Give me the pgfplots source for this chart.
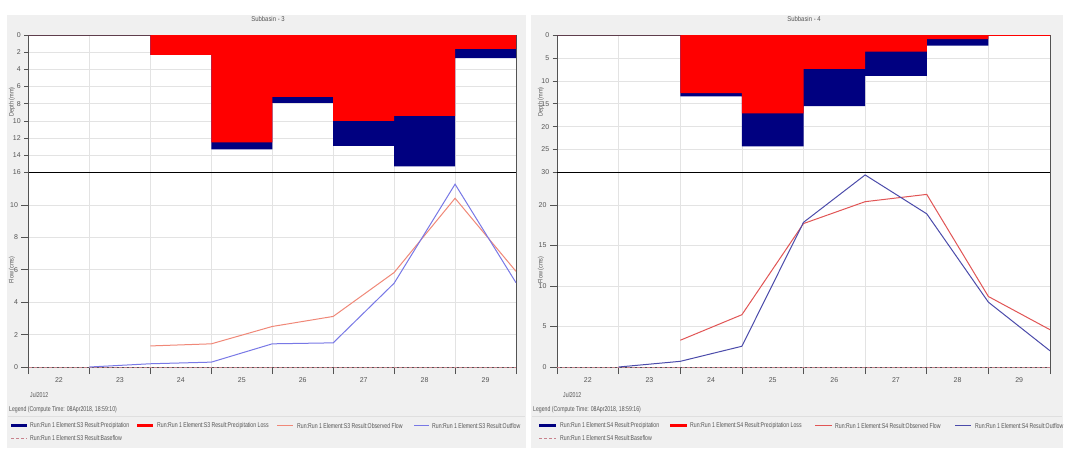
\documentclass[border=0pt]{standalone}
\usepackage{fontspec}
\setmainfont{Liberation Sans}
\usepackage{graphicx}
\usepackage{pgfplots}
\pgfplotsset{compat=1.18}
\definecolor{navy}{RGB}{0,0,128}
\definecolor{bgg}{RGB}{240,240,240}
\definecolor{obsL}{RGB}{240,136,120}
\definecolor{outL}{RGB}{120,120,230}
\definecolor{obsR}{RGB}{225,85,85}
\definecolor{outR}{RGB}{75,75,170}
\definecolor{basef}{RGB}{200,130,140}
\definecolor{txt}{RGB}{85,85,85}
\pgfplotsset{
  hms/.style={scale only axis, xmin=22, xmax=30, xtick={22,...,30},
    xtick pos=lower, ytick pos=left,
    grid=major, major grid style={gray!22, line width=0.6pt},
    axis line style={gray!65!black, line width=0.8pt},
    tick style={gray!65!black, line width=0.6pt}, tick align=outside,
    /pgf/number format/assume math mode=true,
    tick label style={font=\fontsize{7}{8}\selectfont, text=txt},
    axis background/.style={fill=white}},
  depth/.style={hms, y dir=reverse, ymin=0, xticklabels={}, major x tick style={draw=none},
    height=137.5pt},
  flow/.style={hms, ymin=0, x tick label as interval, major tick length=7pt,
    height=194.5pt},
}
\newcommand{\leg}[1]{\scalebox{0.74}[1]{\fontsize{7}{8}\selectfont\color{txt}#1}}
\newcommand{\ylab}[1]{\scalebox{0.85}[1]{\fontsize{6.5}{7}\selectfont\color{txt}#1}}
\begin{document}
\begin{tikzpicture}[x=1pt,y=1pt]
\useasboundingbox (0,0) rectangle (1065,448);
\fill[bgg] (7,0) rectangle (526,433);
\fill[bgg] (531,0) rectangle (1063,433);
\node[font=\fontsize{7}{8}\selectfont, text=txt] at (268,429) {\scalebox{0.85}[1]{Subbasin - 3}};
\node[font=\fontsize{7}{8}\selectfont, text=txt] at (804,429) {\scalebox{0.85}[1]{Subbasin - 4}};

% ---------- Subbasin 3 depth
\begin{axis}[depth, at={(28.5pt,275.5pt)}, anchor=south west, width=487.5pt,
  ymax=16, ytick={0,2,...,16}]
\addplot[ybar interval, fill=navy, draw=none] coordinates {
 (22,0) (23,0) (24,2.3) (25,13.3) (26,7.9) (27,12.9) (28,15.3) (29,2.7) (30,0)};
\addplot[ybar interval, fill=red, draw=none] coordinates {
 (22,0) (23,0) (24,2.3) (25,12.5) (26,7.2) (27,10.0) (28,9.4) (29,1.6) (30,0)};
\end{axis}
% ---------- Subbasin 3 flow
\begin{axis}[flow, at={(28.5pt,81pt)}, anchor=south west, width=487.5pt,
  ymax=12, ytick={0,2,...,10}]
\addplot[basef, densely dashed, line width=0.8pt] coordinates {(22,0) (30,0)};
\addplot[obsL, line width=1pt] coordinates {
 (24,1.3) (25,1.43) (26,2.5) (27,3.12) (28,5.83) (29,10.41) (30,5.9)};
\addplot[outL, line width=1pt] coordinates {
 (23,0) (24,0.2) (25,0.3) (26,1.43) (27,1.49) (28,5.17) (29,11.28) (30,5.2)};
\end{axis}
\draw[black, line width=1.6pt] (28.5,275.5) -- (516,275.5);

% ---------- Subbasin 4 depth
\begin{axis}[depth, at={(557pt,275.5pt)}, anchor=south west, width=493pt,
  ymax=30, ytick={0,5,...,30}]
\addplot[ybar interval, fill=navy, draw=none] coordinates {
 (22,0) (23,0) (24,13.4) (25,24.3) (26,15.5) (27,8.9) (28,2.3) (29,0) (30,0)};
\addplot[ybar interval, fill=red, draw=none] coordinates {
 (22,0) (23,0) (24,12.7) (25,17.1) (26,7.4) (27,3.6) (28,0.9) (29,0.2) (30,0)};
\end{axis}
% ---------- Subbasin 4 flow
\begin{axis}[flow, at={(557pt,81pt)}, anchor=south west, width=493pt,
  ymax=24, ytick={0,5,...,20}]
\addplot[basef, densely dashed, line width=0.8pt] coordinates {(22,0) (30,0)};
\addplot[obsR, line width=1pt] coordinates {
 (24,3.3) (25,6.45) (26,17.7) (27,20.4) (28,21.3) (29,8.7) (30,4.6)};
\addplot[outR, line width=1pt] coordinates {
 (23,0) (24,0.7) (25,2.56) (26,17.85) (27,23.7) (28,18.9) (29,8.0) (30,2.0)};
\end{axis}
\draw[black, line width=1.6pt] (557,275.5) -- (1050,275.5);

% ---------- axis titles
\node[rotate=90] at (12,346) {\ylab{Depth (mm)}};
\node[rotate=90] at (12,178) {\ylab{Flow (cms)}};
\node[rotate=90] at (541,346) {\ylab{Depth (mm)}};
\node[rotate=90] at (541,178) {\ylab{Flow (cms)}};

% ---------- legends
\node[anchor=west, inner sep=0] at (30,53) {\leg{Jul2012}};
\node[anchor=west, inner sep=0] at (563,53) {\leg{Jul2012}};
\draw[gray!25] (8,31.5) -- (525,31.5);
\draw[gray!25] (532,31.5) -- (1062,31.5);
\node[anchor=west, inner sep=0] at (9,38) {\leg{Legend (Compute Time: 08Apr2018, 18:59:10)}};
\node[anchor=west, inner sep=0] at (533,38) {\leg{Legend (Compute Time: 08Apr2018, 18:59:16)}};
% left
\draw[navy, line width=3pt] (11,22.5) -- (27,22.5);
\node[anchor=west, inner sep=0] at (30,22.5) {\leg{Run:Run 1 Element:S3 Result:Precipitation}};
\draw[red, line width=3pt] (137,22.5) -- (153,22.5);
\node[anchor=west, inner sep=0] at (157,22.5) {\leg{Run:Run 1 Element:S3 Result:Precipitation Loss}};
\draw[obsL, line width=1pt] (277,22.5) -- (293,22.5);
\node[anchor=west, inner sep=0] at (297,22.5) {\leg{Run:Run 1 Element:S3 Result:Observed Flow}};
\draw[outL, line width=1pt] (414,22.5) -- (429,22.5);
\node[anchor=west, inner sep=0] at (432,22.5) {\leg{Run:Run 1 Element:S3 Result:Outflow}};
\draw[basef, densely dashed, line width=0.8pt] (11,10) -- (27,10);
\node[anchor=west, inner sep=0] at (30,10) {\leg{Run:Run 1 Element:S3 Result:Baseflow}};
% right
\draw[navy, line width=3pt] (539,22.5) -- (556,22.5);
\node[anchor=west, inner sep=0] at (560,22.5) {\leg{Run:Run 1 Element:S4 Result:Precipitation}};
\draw[red, line width=3pt] (670,22.5) -- (687,22.5);
\node[anchor=west, inner sep=0] at (690,22.5) {\leg{Run:Run 1 Element:S4 Result:Precipitation Loss}};
\draw[obsR, line width=1pt] (815,22.5) -- (832,22.5);
\node[anchor=west, inner sep=0] at (835,22.5) {\leg{Run:Run 1 Element:S4 Result:Observed Flow}};
\draw[outR, line width=1pt] (955,22.5) -- (971,22.5);
\node[anchor=west, inner sep=0] at (975,22.5) {\leg{Run:Run 1 Element:S4 Result:Outflow}};
\draw[basef, densely dashed, line width=0.8pt] (539,10) -- (556,10);
\node[anchor=west, inner sep=0] at (560,10) {\leg{Run:Run 1 Element:S4 Result:Baseflow}};
\end{tikzpicture}
\end{document}
